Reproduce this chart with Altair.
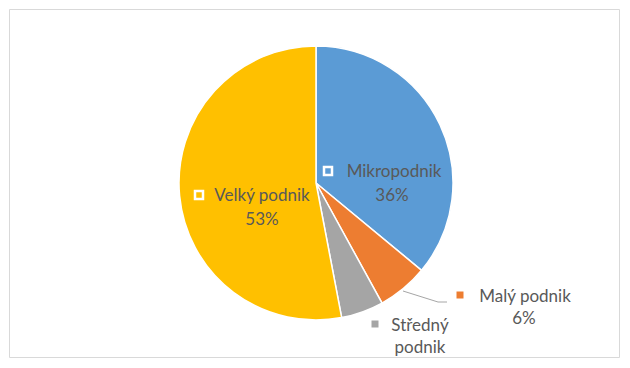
import altair as alt
import pandas as pd

categories = ["Mikropodnik", "Malý podnik", "Středný podnik", "Velký podnik"]
values = [36, 6, 5, 53]
colors = ["#5B9BD5", "#ED7D31", "#A5A5A5", "#FFC000"]

df = pd.DataFrame({"cat": categories, "value": values, "idx": list(range(len(categories)))})

W, H = 612, 350
CX, CY, R = 307, 174, 137
FONT = "Lato"
TXT = "#595959"

pie = alt.Chart(df).mark_arc(outerRadius=R, stroke="white", strokeWidth=1.5).encode(
    theta=alt.Theta("value:Q", stack=True),
    color=alt.Color("cat:N", scale=alt.Scale(domain=categories, range=colors), legend=None),
    order=alt.Order("idx:Q"),
    x=alt.value(CX), y=alt.value(CY),
)

# label layout (text lines, positions relative to the chart)
label_lines = [
    ("Mikropodnik", 385, 163), ("36%", 383, 187),
    ("Velký podnik", 253, 187), ("53%", 253, 211),
    ("Malý podnik", 516, 288), ("6%", 515, 310),
    ("Středný", 411, 317), ("podnik", 411, 339),
]
ldf = pd.DataFrame(label_lines, columns=["t", "x", "y"])
texts = alt.Chart(ldf).mark_text(font=FONT, fontSize=17, color=TXT, baseline="middle", align="center").encode(
    x=alt.X("x:Q", scale=None), y=alt.Y("y:Q", scale=None), text="t:N"
)

markers_big = pd.DataFrame({"x": [319, 190], "y": [162, 186], "c": [colors[0], colors[3]]})
mk_big = alt.Chart(markers_big).mark_square(size=64, strokeWidth=2.5, stroke="white", opacity=1).encode(
    x=alt.X("x:Q", scale=None), y=alt.Y("y:Q", scale=None),
    fill=alt.Fill("c:N", scale=None),
)
markers_small = pd.DataFrame({"x": [451, 366], "y": [286, 315], "c": [colors[1], colors[2]]})
mk_small = alt.Chart(markers_small).mark_square(size=49, opacity=1).encode(
    x=alt.X("x:Q", scale=None), y=alt.Y("y:Q", scale=None),
    fill=alt.Fill("c:N", scale=None),
)

leader = pd.DataFrame({"x": [394, 429], "y": [282, 293], "x2": [429, 438], "y2": [293, 293]})
lead = alt.Chart(leader).mark_rule(color="#A6A6A6", strokeWidth=1).encode(
    x=alt.X("x:Q", scale=None), y=alt.Y("y:Q", scale=None),
    x2="x2:Q", y2="y2:Q",
)

chart = alt.layer(pie, lead, texts, mk_big, mk_small).properties(
    width=W, height=H,
    autosize=alt.AutoSizeParams(type="fit", contains="padding"),
    padding=1,
).configure_view(stroke="#D9D9D9", strokeWidth=1)

chart.save("out.html", embed_options={"renderer": "svg", "actions": False})
